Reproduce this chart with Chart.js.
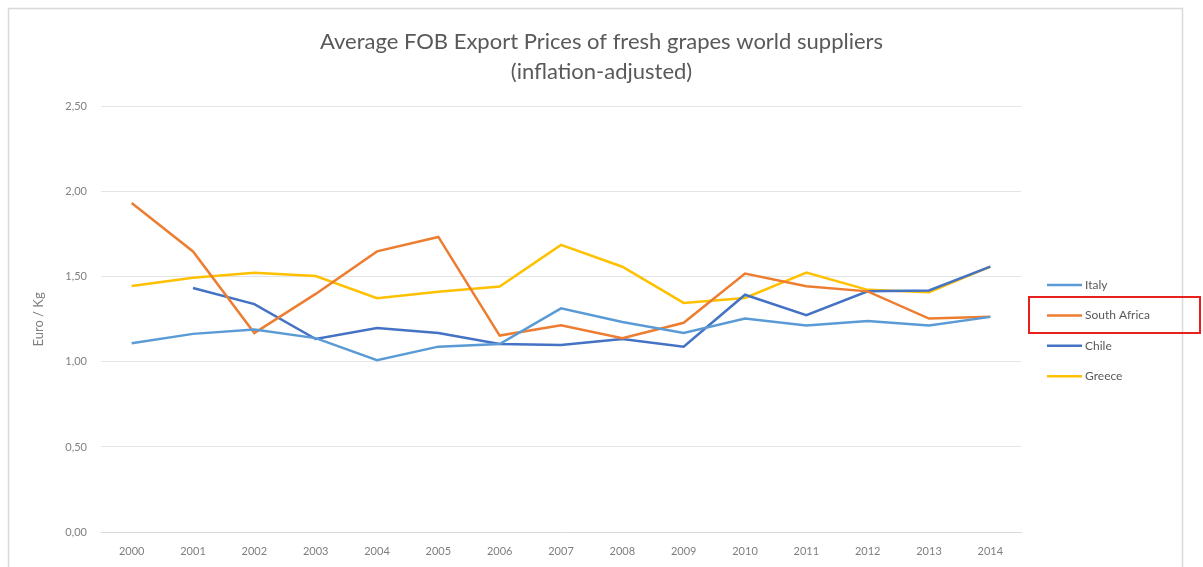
<!DOCTYPE html>
<html>
<head>
<meta charset="utf-8">
<script src="https://cdn.jsdelivr.net/npm/chart.js@4/dist/chart.umd.min.js"></script>
<style>
  html, body { margin: 0; padding: 0; background: #ffffff; }
  #wrap { position: absolute; left: 0; top: 0; width: 1203px; height: 567px; }
</style>
</head>
<body>
<div id="wrap"><canvas id="c" width="1203" height="567"></canvas></div>
<script>
const years = ['2000','2001','2002','2003','2004','2005','2006','2007','2008','2009','2010','2011','2012','2013','2014'];
const italy       = [1.11, 1.165, 1.19, 1.14, 1.01, 1.09, 1.105, 1.315, 1.235, 1.17, 1.255, 1.215, 1.24, 1.215, 1.265];
const southAfrica = [1.935, 1.65, 1.17, 1.40, 1.65, 1.735, 1.155, 1.215, 1.14, 1.23, 1.52, 1.445, 1.415, 1.255, 1.265];
const chile       = [null, 1.435, 1.34, 1.135, 1.20, 1.17, 1.105, 1.10, 1.135, 1.09, 1.395, 1.275, 1.415, 1.42, 1.56];
const greece      = [1.447, 1.495, 1.525, 1.505, 1.375, 1.413, 1.443, 1.688, 1.56, 1.347, 1.376, 1.525, 1.424, 1.41, 1.56];
const seriesNames = ['Italy', 'South Africa', 'Chile', 'Greece'];
const yTicks = [0, 0.5, 1, 1.5, 2, 2.5];
const titleLines = ['Average FOB Export Prices of fresh grapes world suppliers', '(inflation-adjusted)'];
const yTitle = 'Euro / Kg';

const colors = ['#5B9BD5', '#ED7D31', '#4472C4', '#FFC000'];
const FONT = 'Lato, "Open Sans", sans-serif';

const frameAndLegend = {
  id: 'frameAndLegend',
  beforeDraw(chart) {
    const ctx = chart.ctx;
    ctx.save();
    ctx.strokeStyle = '#d9d9d9';
    ctx.lineWidth = 1.5;
    ctx.beginPath();
    ctx.moveTo(8.5, 570);
    ctx.lineTo(8.5, 8.5);
    ctx.lineTo(1182.5, 8.5);
    ctx.lineTo(1182.5, 570);
    ctx.stroke();
    ctx.restore();
  },
  afterDraw(chart) {
    const ctx = chart.ctx;
    ctx.save();
    ctx.font = '12px ' + FONT;
    ctx.textBaseline = 'middle';
    chart.data.datasets.forEach((ds, i) => {
      const y = 285 + i * 30.4;
      ctx.strokeStyle = ds.borderColor;
      ctx.lineWidth = 2.5;
      ctx.beginPath();
      ctx.moveTo(1047, y);
      ctx.lineTo(1082, y);
      ctx.stroke();
      ctx.fillStyle = '#595959';
      ctx.fillText(ds.label, 1085, y);
    });
    ctx.strokeStyle = '#e8201c';
    ctx.lineWidth = 2;
    ctx.strokeRect(1029, 297, 171, 36);
    ctx.restore();
  }
};

const datasets = [italy, southAfrica, chile, greece].map((arr, i) => ({
  label: seriesNames[i],
  data: arr,
  borderColor: colors[i],
  backgroundColor: colors[i],
  borderWidth: 2.5,
  pointRadius: 0,
  tension: 0,
  spanGaps: false
}));

new Chart(document.getElementById('c'), {
  type: 'line',
  data: { labels: years, datasets: datasets },
  options: {
    responsive: false,
    animation: false,
    layout: { padding: 0 },
    plugins: {
      legend: { display: false },
      tooltip: { enabled: false },
      title: {
        display: true,
        text: titleLines,
        color: '#595959',
        font: { family: FONT, size: 22, weight: 'normal', lineHeight: 1.36 },
        padding: { top: 27, bottom: 20 }
      }
    },
    scales: {
      x: {
        offset: true,
        grid: { display: false, drawTicks: false },
        border: { display: true, color: '#d9d9d9', width: 1 },
        ticks: { color: '#7f7f7f', font: { family: FONT, size: 11 }, padding: 13, maxRotation: 0, autoSkip: false },
        afterFit(scale) { scale.height = 35; }
      },
      y: {
        min: 0,
        max: 2.5,
        afterBuildTicks(scale) { scale.ticks = yTicks.map(v => ({ value: v })); },
        grid: { color: '#e4e4e4', drawTicks: false, lineWidth: 1 },
        border: { display: false },
        ticks: {
          color: '#7f7f7f',
          font: { family: FONT, size: 11 },
          padding: 14,
          callback: v => v.toFixed(2).replace('.', ',')
        },
        title: {
          display: true,
          text: yTitle,
          color: '#7f7f7f',
          font: { family: FONT, size: 13 },
          padding: { top: 31, bottom: 0 }
        },
        afterFit(scale) { scale.width = 101; }
      },
      legendSpace: {
        type: 'linear',
        position: 'right',
        display: true,
        grid: { display: false, drawTicks: false },
        border: { display: false },
        ticks: { display: false },
        afterFit(scale) { scale.width = 182; }
      }
    }
  },
  plugins: [frameAndLegend]
});
</script>
</body>
</html>
